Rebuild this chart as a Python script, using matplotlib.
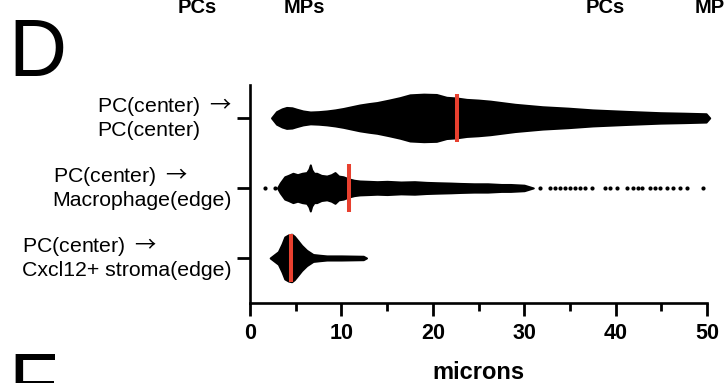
#!/usr/bin/env python3
"""
panel D: nearest-neighbour distances (microns), drawn as swarm envelopes
with medians in red
"""
import numpy as np
import matplotlib
matplotlib.use('Agg')
import matplotlib.pyplot as plt
from matplotlib.transforms import ScaledTranslation

plt.rcParams['font.family'] = ['Liberation Sans', 'DejaVu Sans']
# long thin arrow glyph, as in the original figure
plt.rcParams['mathtext.fontset'] = 'custom'
plt.rcParams['mathtext.rm'] = 'Noto Sans CJK JP'

#%% data
categories = ['PC(center) $\\mathrm{\\rightarrow}$\nCxcl12+ stroma(edge)',
              'PC(center) $\\mathrm{\\rightarrow}$\nMacrophage(edge)',
              'PC(center) $\\mathrm{\\rightarrow}$\nPC(center)']   # bottom -> top

# swarm outline: distance (microns) vs half-width of swarm (category units)
pp_x = [2.35, 2.9, 3.5, 4.0, 4.6, 5.1, 5.8, 6.6, 7.5, 8.4, 9.3, 10.2, 11.1, 12.0,
        13.0, 13.9, 15.2, 16.4, 17.5, 19.0, 20.4, 21.5, 22.6, 23.7, 25.0, 26.3,
        29.0, 32.0, 34.8, 37.5, 41.0, 44.9, 47.5, 49.9, 50.3]
pp_w = [0, .09, .13, .15, .145, .125, .10, .085, .09, .10, .115, .135, .16, .185,
        .205, .22, .255, .29, .33, .34, .335, .295, .285, .265, .255, .24,
        .195, .16, .14, .115, .095, .075, .068, .06, 0]

pm_x = [3.0, 3.3, 3.8, 4.2, 4.7, 5.2, 5.7, 6.2, 6.45, 6.6, 6.75, 7.0, 7.3, 7.8,
        8.4, 8.9, 9.3, 9.7, 10.2, 10.8, 11.4, 12.0, 13.0, 13.9, 15.0, 16.5,
        18.0, 19.3, 20.5, 22.0, 23.0, 24.5, 26.0, 27.5, 28.5, 30.0, 31.0]
pm_w = [0, .07, .16, .18, .21, .19, .21, .22, .27, .33, .26, .21, .21, .18,
        .17, .19, .22, .17, .16, .13, .11, .10, .095, .09, .095, .085,
        .09, .08, .075, .07, .065, .06, .06, .05, .05, .04, 0]
# single outlying cells in the macrophage row
pm_dots = [1.64, 2.7, 31.7, 32.8, 33.4, 33.9, 34.5, 35.0, 35.6, 36.1, 36.7, 37.4,
           38.8, 39.4, 40.1, 41.2, 41.9, 42.5, 42.9, 43.8, 44.3, 44.9, 45.6,
           46.3, 47.0, 47.8, 49.6]

ps_x = [2.2, 2.55, 3.1, 3.5, 3.8, 4.2, 4.56, 4.85, 5.1, 5.65, 6.2, 6.9, 7.6,
        8.4, 10.0, 12.4, 12.75]
ps_w = [0, .035, .09, .20, .30, .33, .34, .31, .27, .18, .11, .05, .04,
        .03, .03, .025, 0]

medians = [4.5, 10.85, 22.6]   # bottom -> top

xticks = [0, 10, 20, 30, 40, 50]

#%% figure
fig = plt.figure(figsize=(7.24, 3.83), dpi=100)
ax = fig.add_axes([250/724, 1 - 303/383, 457/724, 218/383])

red = '#e8402f'
for pos, (x, w) in enumerate([(ps_x, ps_w), (pm_x, pm_w), (pp_x, pp_w)]):
    x = np.asarray(x)
    w = np.asarray(w)
    ax.fill_between(x, pos - w, pos + w, facecolor='k', edgecolor='k',
                    linewidth=1.4, joinstyle='round', clip_on=False, zorder=2)
ax.scatter(pm_dots, np.ones(len(pm_dots)), s=9, color='k', lw=0, zorder=2)

for pos, m in enumerate(medians):
    ax.plot([m, m], [pos - 0.34, pos + 0.34], color=red, lw=2.9,
            solid_capstyle='butt', zorder=3)

#%% axes cosmetics
ax.set_xlim(0, 50)
ax.set_ylim(-0.643, 2.47)
for s in ('top', 'right'):
    ax.spines[s].set_visible(False)
for s in ('left', 'bottom'):
    ax.spines[s].set_linewidth(1.9)

ax.set_xticks(xticks)
ax.set_xticks(np.arange(5, 50, 10), minor=True)
ax.tick_params(axis='x', which='major', length=9.5, width=2, pad=5,
               labelsize=15.5)
ax.tick_params(axis='x', which='minor', length=6, width=2)
for lab in ax.get_xticklabels():
    lab.set_fontweight('bold')

ax.set_yticks(range(len(categories)))
ax.set_yticklabels(categories, fontsize=15.3)
ax.tick_params(axis='y', length=9.4, width=2, pad=3.5)
up = ScaledTranslation(0, 3/72, fig.dpi_scale_trans)
for lab in ax.get_yticklabels():
    lab.set_multialignment('left')
    lab.set_transform(lab.get_transform() + up)

ax.set_xlabel('microns', fontsize=17, fontweight='bold')
ax.xaxis.set_label_coords(0.5, -0.349)
ax.xaxis.label.set_va('baseline')

#%% panel letters and cropped headers of the figure above
fig.text(8/724, 1 - 76/383, 'D', fontsize=58, va='baseline', ha='left')
fig.text(8/724, 1 - 410/383, 'F', fontsize=58, va='baseline', ha='left')
for xx, t in [(178, 'PCs'), (284, 'MPs'), (586, 'PCs'), (695, 'MPs')]:
    fig.text(xx/724, 1 - 13/383, t, fontsize=14.5, fontweight='bold',
             va='baseline', ha='left')

fig.savefig('out.png', dpi=100)
